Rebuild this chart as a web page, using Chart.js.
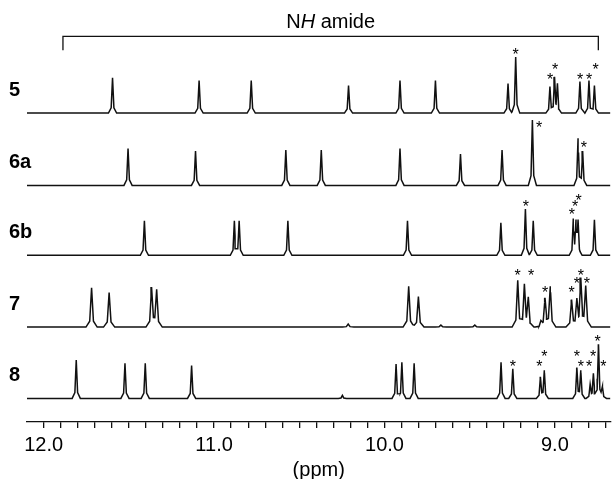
<!DOCTYPE html>
<html>
<head>
<meta charset="utf-8">
<script src="https://cdn.jsdelivr.net/npm/chart.js@4/dist/chart.umd.min.js"></script>
<style>
  html, body { margin: 0; padding: 0; background: #fff; }
  #wrap { width: 613px; height: 479px; }
</style>
</head>
<body>
<div id="wrap"><canvas id="nmrChart" width="613" height="479"></canvas></div>
<script>
// Limites do eixo (ppm), eixo invertido como em RMN
const PPM_MIN = 8.674;
const PPM_MAX = 12.098;

const traceLabels = ['5', '6a', '6b', '7', '8'];

// Marcas do eixo x (a cada 0.1 ppm) e as que levam rótulo
const tickValues = [12.0, 11.9, 11.8, 11.7, 11.6, 11.5, 11.4, 11.3, 11.2, 11.1, 11.0, 10.9, 10.8, 10.7, 10.6, 10.5, 10.4, 10.3, 10.2, 10.1, 10.0, 9.9, 9.8, 9.7, 9.6, 9.5, 9.4, 9.3, 9.2, 9.1, 9.0, 8.9, 8.8, 8.7];
const tickLabels = [12.0, 11.0, 10.0, 9.0];

// Picos: deslocamento (ppm) e altura acima da linha de base
const peaks5 = [11.596, 11.088, 10.782, 10.211, 9.909, 9.701, 9.275, 9.230, 9.029, 9.002, 8.985, 8.853, 8.800, 8.768];
const heights5 = [36, 33, 33, 28, 33, 33, 30, 57, 27, 35, 28, 32, 33, 28];
const peaks6a = [11.505, 11.109, 10.579, 10.371, 9.909, 9.554, 9.310, 9.132, 8.864, 8.837];
const heights6a = [37.5, 35, 36, 36, 37.5, 32, 36, 66.5, 48, 35];
const peaks6b = [11.409, 10.881, 10.853, 10.567, 9.865, 9.317, 9.173, 9.127, 8.892, 8.876, 8.864, 8.768];
const heights6b = [35, 35, 35, 35, 35, 33, 47, 35, 35, 30, 33, 36];
const peaks7 = [11.719, 11.616, 11.367, 11.337, 10.213, 9.858, 9.801, 9.669, 9.470, 9.218, 9.179, 9.156, 9.082, 9.058, 9.027, 8.902, 8.871, 8.848, 8.819];
const heights7 = [40, 35, 40, 37.5, 3, 41.5, 31, 2, 2, 47.5, 42, 28, 5, 29, 41, 27.5, 26, 47.5, 41];
const peaks8 = [11.809, 11.523, 11.404, 11.132, 10.247, 9.932, 9.898, 9.826, 9.316, 9.247, 9.085, 9.062, 8.871, 8.848, 8.793, 8.774, 8.744, 8.721];
const heights8 = [39, 35.7, 35.7, 33.3, 3, 35, 36.7, 35.7, 36.7, 30, 21.7, 28.3, 31, 28.3, 13.3, 25, 55, 11.7];

// Asteriscos (*): posição (ppm) e altura acima da linha de base
const stars5 = [9.230, 9.028, 8.999, 8.852, 8.799, 8.761];
const starHeights5 = [63, 38, 48, 38, 38, 48];
const stars6a = [9.093, 8.830];
const starHeights6a = [62, 42.5];
const stars6b = [9.170, 8.901, 8.881, 8.861];
const starHeights6b = [52.8, 45.5, 52.8, 59.5];
const stars7 = [9.218, 9.140, 9.058, 8.902, 8.871, 8.848, 8.813];
const starHeights7 = [55.8, 55.8, 39.2, 39.2, 47.5, 55.8, 47.5];
const stars8 = [9.247, 9.091, 9.062, 8.871, 8.848, 8.799, 8.775, 8.749, 8.715];
const starHeights8 = [36, 36, 45.7, 45.7, 36, 36, 45.7, 61, 36];

// Região "NH amida" (colchete)
const amideRange = [11.887, 8.745];

// --- layout (unidades do eixo y = px acima do eixo x) ---
const traceOffsets = [314, 240.5, 169.5, 96.5, 24];
const traceWidths = [0.008, 0.008, 0.008, 0.011, 0.008];
const FONT = '"Liberation Sans", Arial, sans-serif';

const peakSets = [[peaks5, heights5], [peaks6a, heights6a], [peaks6b, heights6b], [peaks7, heights7], [peaks8, heights8]];
const starSets = [[stars5, starHeights5], [stars6a, starHeights6a], [stars6b, starHeights6b], [stars7, starHeights7], [stars8, starHeights8]];

// Monta a linha de cada espectro: ponta estreita + base larga em cada pico
function buildTrace(ppm, hts, offset, w) {
    const shape = [-3, -1, 0, 1, 3];
    const xs = [PPM_MIN, PPM_MAX];
    ppm.forEach(p => shape.forEach(s => xs.push(p + s * w)));
    xs.sort((a, b) => a - b);
    return xs.map(xv => {
        let yv = 0;
        ppm.forEach((p, i) => {
            const d = Math.abs(xv - p) / w;
            if (d < 1) yv += hts[i] * (1 - 0.85 * d);
            else if (d < 3) yv += hts[i] * 0.15 * (3 - d) / 2;
        });
        return { x: xv, y: offset + yv };
    });
}

const datasets = peakSets.map((set, i) => ({
    label: traceLabels[i],
    data: buildTrace(set[0], set[1], traceOffsets[i], traceWidths[i]),
    borderColor: '#111',
    borderWidth: 1.5,
    pointRadius: 0,
    tension: 0,
    fill: false
}));

// Asteriscos, rótulos dos compostos e colchete
const decorPlugin = {
    id: 'decor',
    afterDatasetsDraw(chart) {
        const { ctx, scales: { x, y } } = chart;
        ctx.save();
        ctx.fillStyle = '#000';
        ctx.strokeStyle = '#111';

        ctx.font = '16px ' + FONT;
        ctx.textAlign = 'center';
        ctx.textBaseline = 'alphabetic';
        starSets.forEach((set, i) => {
            set[0].forEach((p, j) => {
                ctx.fillText('*', x.getPixelForValue(p), y.getPixelForValue(traceOffsets[i] + set[1][j]) + 9);
            });
        });

        ctx.font = 'bold 20px ' + FONT;
        ctx.textAlign = 'left';
        ctx.textBaseline = 'middle';
        traceLabels.forEach((t, i) => {
            ctx.fillText(t, 9, y.getPixelForValue(traceOffsets[i] + 23));
        });

        // colchete
        const xl = x.getPixelForValue(amideRange[0]);
        const xr = x.getPixelForValue(amideRange[1]);
        const yt = y.getPixelForValue(392);
        const yb = y.getPixelForValue(378);
        ctx.lineWidth = 1.3;
        ctx.beginPath();
        ctx.moveTo(xl, yb);
        ctx.lineTo(xl, yt);
        ctx.lineTo(xr, yt);
        ctx.lineTo(xr, yb);
        ctx.stroke();

        // "NH amide" com H em itálico
        const parts = [['N', ''], ['H', 'italic '], [' amide', '']];
        let total = 0;
        parts.forEach(pt => { ctx.font = pt[1] + '20px ' + FONT; total += ctx.measureText(pt[0]).width; });
        let cx = (xl + xr) / 2 - total / 2;
        const ty = y.getPixelForValue(406);
        ctx.textAlign = 'left';
        parts.forEach(pt => {
            ctx.font = pt[1] + '20px ' + FONT;
            ctx.fillText(pt[0], cx, ty);
            cx += ctx.measureText(pt[0]).width;
        });
        ctx.restore();
    }
};

const ctx = document.getElementById('nmrChart').getContext('2d');
const nmrChart = new Chart(ctx, {
    type: 'line',
    data: { datasets: datasets },
    options: {
        responsive: false,
        animation: false,
        events: [],
        layout: { padding: { left: 27, right: 0, top: 0, bottom: 0 } },
        plugins: {
            legend: { display: false },
            tooltip: { enabled: false }
        },
        scales: {
            x: {
                type: 'linear',
                reverse: true,
                min: PPM_MIN,
                max: PPM_MAX,
                border: { display: true, color: '#111', width: 1.3 },
                grid: { display: true, drawOnChartArea: false, drawTicks: true, tickLength: 6, color: '#111', lineWidth: 1.3 },
                afterBuildTicks: axis => {
                    axis.ticks = tickValues.map(v => ({ value: v }));
                },
                ticks: {
                    autoSkip: false,
                    maxRotation: 0,
                    color: '#000',
                    padding: 7,
                    font: { family: FONT, size: 20, lineHeight: 1 },
                    callback: v => tickLabels.some(t => Math.abs(t - v) < 1e-6) ? v.toFixed(1) : ''
                },
                title: {
                    display: true,
                    text: '(ppm)',
                    color: '#000',
                    font: { family: FONT, size: 20, lineHeight: 1 },
                    padding: { top: -2, bottom: -1 }
                }
            },
            y: { display: false, min: 0, max: 429 }
        }
    },
    plugins: [decorPlugin]
});
</script>
</body>
</html>
